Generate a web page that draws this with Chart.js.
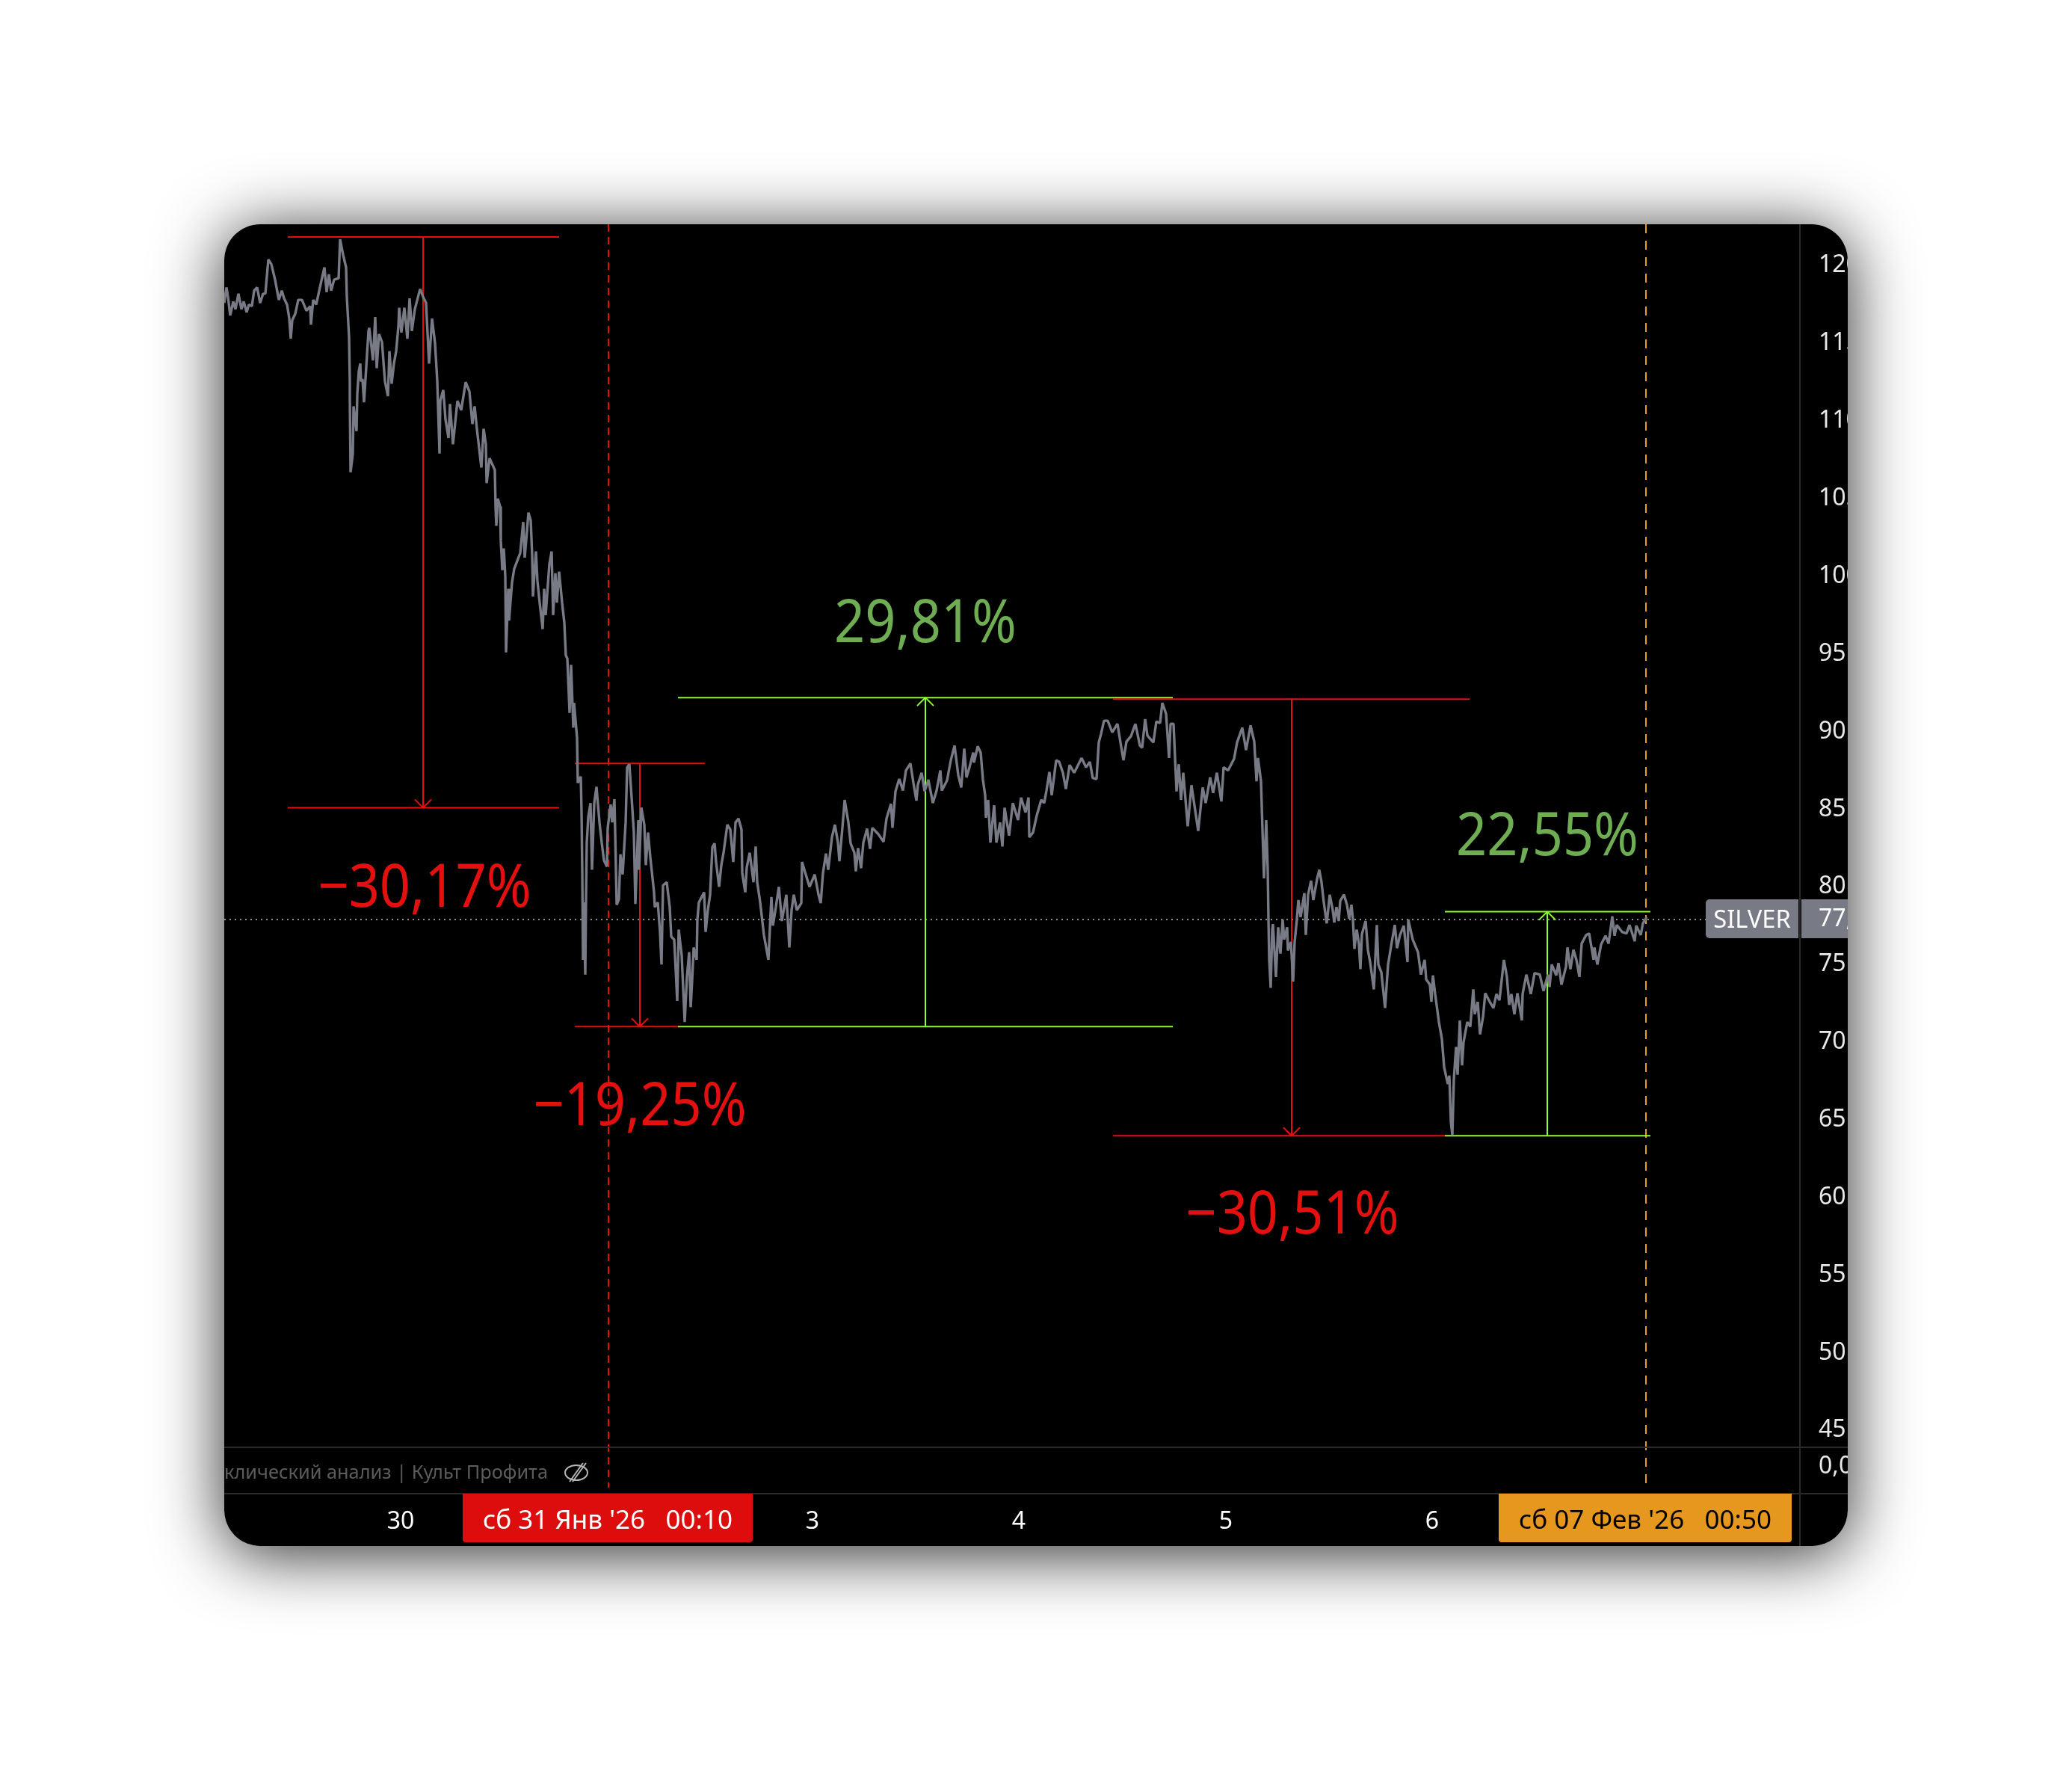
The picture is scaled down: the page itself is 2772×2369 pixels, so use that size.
<!DOCTYPE html>
<html>
<head>
<meta charset="utf-8">
<title>SILVER</title>
<script src="https://cdn.jsdelivr.net/npm/chart.js@4/dist/chart.umd.min.js"></script>
<style>
  html, body { margin: 0; background: #fff; }
  #card {
    position: absolute; left: 300px; top: 300px; width: 2172px; height: 1768px;
    background: #000; border-radius: 48px; overflow: hidden;
  }
  #shadow {
    position: absolute; left: 300px; top: 300px; width: 2172px; height: 1768px;
    border-radius: 48px; box-shadow: 0 10px 90px rgba(0, 0, 0, 0.85);
  }
</style>
</head>
<body>
<div id="shadow"></div>
<div id="card"><canvas id="grafica" width="2172" height="1768"></canvas></div>
<script>
// 5 minute bars counted from the left edge of the window
const bars = [
  0, 3, 5, 8, 12, 15, 19, 23, 26, 30, 33, 37, 40, 44, 48, 52, 55, 59, 63, 68,
  73, 77, 80, 84, 87, 89, 91, 95, 99, 104, 110, 115, 116, 119, 123, 128, 134, 137, 140, 143,
  147, 153, 155, 159, 163, 164, 167, 168, 168, 169, 172, 173, 177, 178, 180, 182, 183, 185, 187, 190,
  193, 194, 199, 202, 204, 207, 211, 215, 219, 221, 224, 227, 230, 233, 234, 237, 241, 245, 248, 251,
  255, 262, 266, 270, 274, 278, 282, 285, 288, 289, 293, 296, 300, 302, 306, 312, 317, 323, 328, 332,
  335, 338, 344, 347, 350, 351, 355, 362, 363, 364, 366, 369, 370, 372, 374, 376, 377, 380, 381, 385,
  388, 392, 396, 400, 402, 407, 410, 412, 413, 417, 419, 422, 426, 428, 430, 435, 438, 440, 443, 445,
  448, 452, 455, 457, 459, 462, 464, 467, 468, 472, 473, 477, 478, 479, 480, 481, 483, 484, 485, 487,
  490, 492, 495, 498, 502, 505, 508, 512, 513, 517, 519, 522, 523, 525, 528, 530, 533, 537, 539, 542,
  545, 548, 550, 554, 555, 558, 562, 564, 567, 570, 575, 576, 580, 583, 585, 587, 592, 596, 598, 602,
  606, 608, 612, 616, 619, 622, 624, 626, 628, 632, 633, 635, 642, 644, 647, 650, 653, 656, 658, 662,
  665, 668, 673, 677, 681, 684, 688, 692, 693, 697, 699, 703, 708, 711, 713, 717, 722, 728, 732, 734,
  738, 742, 746, 752, 756, 759, 762, 766, 772, 773, 778, 783, 790, 795, 798, 801, 805, 808, 813, 817,
  821, 823, 827, 830, 835, 838, 843, 845, 848, 852, 855, 860, 864, 867, 875, 882, 886, 892, 894, 898,
  903, 908, 912, 918, 922, 926, 928, 933, 937, 942, 948, 953, 958, 960, 967, 972, 977, 982, 986, 990,
  993, 997, 1002, 1003, 1008, 1012, 1015, 1018, 1019, 1022, 1025, 1030, 1033, 1038, 1041, 1044, 1050, 1055, 1062, 1066,
  1072, 1076, 1077, 1082, 1087, 1093, 1097, 1100, 1104, 1107, 1113, 1117, 1122, 1126, 1131, 1137, 1147, 1153, 1158, 1162,
  1167, 1170, 1173, 1177, 1182, 1188, 1195, 1199, 1203, 1207, 1213, 1219, 1225, 1228, 1232, 1235, 1243, 1247, 1252, 1255,
  1260, 1264, 1266, 1270, 1274, 1277, 1280, 1283, 1289, 1294, 1303, 1309, 1313, 1319, 1323, 1328, 1334, 1337, 1343, 1351,
  1355, 1362, 1367, 1373, 1378, 1381, 1383, 1387, 1391, 1394, 1396, 1397, 1398, 1400, 1402, 1403, 1407, 1410, 1413, 1416,
  1418, 1422, 1423, 1427, 1430, 1432, 1435, 1437, 1440, 1445, 1447, 1450, 1454, 1457, 1462, 1465, 1468, 1471, 1475, 1479,
  1483, 1485, 1488, 1491, 1493, 1498, 1502, 1505, 1508, 1510, 1512, 1515, 1518, 1520, 1522, 1527, 1530, 1533, 1538, 1542,
  1544, 1548, 1553, 1557, 1562, 1566, 1569, 1573, 1578, 1583, 1584, 1590, 1597, 1601, 1606, 1608, 1613, 1615, 1617, 1620,
  1625, 1629, 1632, 1637, 1639, 1641, 1643, 1645, 1648, 1650, 1653, 1656, 1658, 1663, 1667, 1671, 1673, 1677, 1680, 1684,
  1687, 1693, 1698, 1702, 1706, 1712, 1716, 1719, 1722, 1726, 1730, 1736, 1737, 1742, 1748, 1753, 1760, 1765, 1771, 1773,
  1776, 1782, 1785, 1789, 1795, 1797, 1801, 1805, 1809, 1813, 1816, 1822, 1826, 1832, 1833, 1837, 1842, 1848, 1852, 1857,
  1860, 1863, 1870, 1876, 1880, 1887, 1889, 1895, 1898, 1903,
];

const prices = [
  117.5, 118.5, 117.9, 116.7, 117.6, 117.1, 118.1, 117.1, 117.6, 116.9, 117.4, 117.3, 118.3, 118.5, 117.5, 118.1, 118.1, 120.3, 120.0, 119.0,
  117.7, 118.3, 117.8, 117.4, 116.5, 115.2, 116.4, 116.8, 117.7, 117.7, 117.0, 117.3, 116.1, 117.7, 117.4, 118.5, 119.8, 118.2, 119.35, 118.3,
  119.0, 119.1, 121.6, 120.6, 119.8, 117.9, 115.3, 112.45, 111.4, 106.6, 107.8, 110.85, 109.25, 111.65, 113.1, 113.6, 112.45, 112.6, 111.1, 113.4,
  115.7, 115.9, 113.8, 116.6, 113.3, 115.5, 115.0, 112.45, 111.5, 114.4, 112.3, 113.6, 114.4, 116.0, 117.2, 115.6, 117.2, 115.2, 117.8, 115.7,
  117.1, 118.4, 117.9, 117.5, 113.6, 116.5, 114.9, 112.45, 107.8, 111.2, 111.9, 110.0, 108.8, 111.0, 108.4, 111.2, 110.6, 112.4, 111.8, 109.7,
  110.85, 109.4, 106.9, 109.4, 108.4, 105.9, 107.5, 106.75, 104.3, 103.15, 104.9, 104.4, 102.2, 100.3, 101.7, 99.9, 95.0, 99.1, 97.05, 99.5,
  100.4, 100.9, 101.4, 103.4, 101.1, 104.0, 103.5, 101.2, 98.6, 101.5, 99.6, 98.2, 96.5, 99.1, 97.4, 100.7, 101.5, 97.4, 100.1, 98.2,
  100.2, 98.2, 96.9, 94.8, 94.6, 91.1, 94.2, 90.15, 91.75, 89.5, 86.6, 87.0, 84.7, 80.8, 75.2, 78.9, 74.25, 79.25, 82.75, 84.4,
  85.3, 81.0, 85.3, 86.35, 84.05, 82.75, 81.6, 81.2, 83.7, 85.2, 84.05, 85.55, 83.4, 78.75, 79.1, 82.0, 80.7, 84.05, 87.6, 87.8,
  85.65, 83.4, 78.8, 84.2, 81.0, 85.0, 83.9, 81.3, 83.4, 81.8, 79.55, 78.6, 78.9, 77.0, 74.9, 80.0, 80.2, 78.6, 76.7, 76.5,
  72.55, 77.15, 75.5, 71.2, 74.1, 75.7, 72.15, 73.9, 76.0, 75.2, 77.8, 78.9, 79.55, 77.0, 78.4, 79.4, 82.45, 82.7, 81.5, 79.9,
  81.3, 82.1, 83.9, 83.6, 81.5, 84.05, 84.3, 83.6, 80.8, 79.55, 81.15, 82.1, 80.2, 82.5, 80.2, 78.9, 76.8, 75.2, 79.25, 77.4,
  78.6, 79.9, 77.7, 79.4, 76.0, 78.4, 79.4, 78.4, 78.85, 81.5, 80.7, 79.9, 80.7, 79.4, 78.85, 80.8, 82.05, 81.0, 83.1, 83.9,
  82.75, 81.55, 83.7, 85.5, 84.05, 82.7, 82.1, 80.9, 82.4, 81.1, 82.75, 83.65, 82.35, 83.7, 83.3, 82.8, 84.3, 85.25, 83.7, 86.05,
  86.85, 86.1, 87.4, 87.85, 86.6, 85.45, 86.5, 87.25, 86.05, 86.8, 85.3, 86.1, 87.4, 86.1, 86.75, 88.05, 89.0, 87.1, 86.3, 88.8,
  86.95, 87.6, 88.55, 87.9, 88.95, 88.55, 86.8, 85.8, 84.35, 85.5, 82.75, 85.15, 82.75, 84.05, 82.5, 85.0, 83.2, 85.3, 84.2, 85.65,
  84.7, 85.65, 83.1, 83.4, 84.5, 85.5, 85.3, 86.1, 87.3, 85.8, 88.05, 87.95, 87.25, 86.2, 87.75, 87.25, 88.2, 87.6, 87.95, 86.9,
  86.85, 89.2, 89.75, 90.6, 90.6, 89.85, 90.4, 89.2, 88.05, 89.25, 89.6, 90.4, 89.0, 88.85, 90.7, 89.65, 89.2, 90.55, 90.45, 91.75,
  91.05, 88.2, 90.4, 90.4, 86.05, 87.8, 85.5, 87.25, 83.8, 86.45, 83.5, 86.3, 85.3, 86.95, 85.95, 87.25, 85.4, 87.6, 87.4, 88.15,
  89.2, 90.15, 88.7, 90.3, 89.25, 86.7, 88.2, 86.7, 80.45, 84.2, 81.0, 77.8, 75.2, 73.4, 77.15, 77.5, 74.1, 77.3, 75.6, 77.8,
  76.5, 77.3, 75.8, 76.35, 73.8, 76.35, 77.8, 79.05, 77.95, 79.5, 76.8, 79.4, 80.3, 79.05, 80.4, 81.0, 80.2, 78.9, 77.55, 79.4,
  78.4, 77.6, 78.6, 77.7, 79.0, 79.4, 78.75, 77.85, 78.75, 77.8, 75.9, 77.15, 76.25, 74.6, 76.85, 77.7, 75.85, 75.05, 73.3, 77.45,
  74.9, 74.4, 72.1, 74.9, 76.35, 77.45, 75.95, 76.8, 77.4, 75.05, 77.8, 76.5, 75.7, 74.25, 75.2, 73.95, 73.6, 72.5, 74.2, 73.0,
  71.2, 70.1, 68.3, 67.2, 67.75, 64.8, 63.9, 67.5, 69.6, 67.8, 71.3, 68.4, 69.9, 71.2, 70.9, 73.3, 71.7, 72.5, 70.4, 71.5,
  73.05, 72.5, 72.1, 73.0, 72.6, 75.2, 74.1, 72.3, 73.0, 71.7, 73.05, 71.3, 73.0, 74.25, 73.0, 74.35, 74.25, 73.2, 74.25, 73.45,
  74.9, 74.2, 75.0, 73.6, 74.75, 76.0, 74.6, 75.85, 75.2, 74.1, 76.25, 76.8, 76.9, 75.2, 76.0, 74.9, 76.2, 76.75, 76.25, 78.0,
  76.75, 77.45, 77.0, 76.9, 77.45, 76.4, 77.4, 76.8, 77.55, 77.95,
];

const dayTickBars = [236, 787, 1063, 1340, 1616];
const dayTickLabels = ["30", "3", "4", "5", "6"];
const lastPrice = 77.8;

// measured moves, in bars and prices
const moves = [
  { from: 121.75, to: 85.0, at: 266, fromSpan: [85, 448], toSpan: [85, 448], color: "#e50f0f" },
  { from: 87.85, to: 70.9, at: 556, fromSpan: [469, 643], toSpan: [469, 607], color: "#e50f0f" },
  { from: 70.9, to: 92.09, at: 938, fromSpan: [607, 1269], toSpan: [607, 1269], color: "#8cff2e" },
  { from: 91.99, to: 63.87, at: 1428, fromSpan: [1189, 1666], toSpan: [1189, 1633], color: "#e50f0f" },
  { from: 63.87, to: 78.3, at: 1770, fromSpan: [1633, 1908], toSpan: [1633, 1908], color: "#8cff2e" },
];
const moveLabels = [
  { text: "\u221230,17%", bar: 268, price: 79.72, color: "#e3100f" },
  { text: "\u221219,25%", bar: 556, price: 65.68, color: "#e3100f" },
  { text: "29,81%", bar: 938, price: 96.75, color: "#6fad52" },
  { text: "\u221230,51%", bar: 1429, price: 58.68, color: "#e3100f" },
  { text: "22,55%", bar: 1770, price: 83.05, color: "#6fad52" },
];

const panelLine = "#2a2a2a";
const fontName = '"Noto Sans", sans-serif';
Chart.defaults.font.family = fontName;

function texto(ctx, text, x, y, sx, align) {
  ctx.save();
  ctx.translate(x, y);
  ctx.scale(sx, 1);
  ctx.textAlign = align || "center";
  ctx.textBaseline = "middle";
  ctx.fillText(text, 0, 0);
  ctx.restore();
}

function raya(ctx, x0, y0, x1, y1) {
  ctx.beginPath();
  ctx.moveTo(x0, y0);
  ctx.lineTo(x1, y1);
  ctx.stroke();
}

const marcas = {
  id: "marcas",
  beforeDatasetsDraw(chart) {
    const { ctx, scales } = chart;
    const x = scales.x, y = scales.y;
    ctx.save();

    // session markers
    ctx.lineWidth = 2;
    ctx.setLineDash([10, 7]);
    ctx.strokeStyle = "#e01010";
    raya(ctx, 514, 0, 514, 1690);
    ctx.setLineDash([12, 10]);
    ctx.strokeStyle = "#eb9a1e";
    raya(ctx, 1902, 0, 1902, 1690);

    // last price
    ctx.setLineDash([2, 5]);
    ctx.strokeStyle = "#8a8d96";
    raya(ctx, 0, y.getPixelForValue(lastPrice), 1984, y.getPixelForValue(lastPrice));
    ctx.setLineDash([]);

    moves.forEach((m) => {
      const top = y.getPixelForValue(m.from);
      const bottom = y.getPixelForValue(m.to);
      const mid = x.getPixelForValue(m.at);
      ctx.strokeStyle = m.color;
      ctx.lineWidth = 2;
      raya(ctx, x.getPixelForValue(m.fromSpan[0]), top, x.getPixelForValue(m.fromSpan[1]), top);
      raya(ctx, x.getPixelForValue(m.toSpan[0]), bottom, x.getPixelForValue(m.toSpan[1]), bottom);
      raya(ctx, mid, top, mid, bottom);
      const dir = bottom > top ? -1 : 1;
      ctx.beginPath();
      ctx.moveTo(mid - 11, bottom + dir * 11);
      ctx.lineTo(mid, bottom);
      ctx.lineTo(mid + 11, bottom + dir * 11);
      ctx.stroke();
    });

    ctx.font = "80px " + fontName;
    moveLabels.forEach((l) => {
      ctx.fillStyle = l.color;
      texto(ctx, l.text, x.getPixelForValue(l.bar), y.getPixelForValue(l.price), 0.9);
    });
    ctx.restore();
  },
  afterDatasetsDraw(chart) {
    const ctx = chart.ctx;
    ctx.save();

    // panel separators
    ctx.strokeStyle = panelLine;
    ctx.lineWidth = 2;
    raya(ctx, 0, 1636, 2172, 1636);
    raya(ctx, 0, 1698, 2172, 1698);
    raya(ctx, 2108, 0, 2108, 1768);

    // study title in the lower panel
    ctx.fillStyle = "#5c5c5c";
    ctx.font = "26px " + fontName;
    texto(ctx, "Циклический анализ | Культ Профита", 433, 1671, 0.975, "right");
    ctx.strokeStyle = "#b5b5b5";
    ctx.lineWidth = 2;
    ctx.beginPath();
    ctx.ellipse(471, 1670, 15, 10, 0, 0, Math.PI * 2);
    ctx.stroke();
    raya(ctx, 462, 1682, 480, 1657);
    raya(ctx, 466, 1682, 484, 1657);

    ctx.fillStyle = "#e8e8e8";
    ctx.font = "32px " + fontName;
    texto(ctx, "0,00", 2133, 1662, 1, "left");

    // last price tag
    ctx.fillStyle = "#787b86";
    ctx.beginPath();
    ctx.roundRect(1982, 903, 124, 52, [5, 0, 0, 5]);
    ctx.fill();
    ctx.fillRect(2110, 903, 62, 52);
    ctx.fillStyle = "#fff";
    ctx.font = "32px " + fontName;
    texto(ctx, "SILVER", 2044, 932, 1.02);
    texto(ctx, "77,80", 2133, 930, 1, "left");

    // cursor dates on the time axis
    ctx.font = "34px " + fontName;
    ctx.fillStyle = "#dd0d0d";
    ctx.beginPath();
    ctx.roundRect(319, 1698, 388, 65, [0, 0, 4, 4]);
    ctx.fill();
    ctx.fillStyle = "#fff";
    texto(ctx, "сб 31 Янв '26   00:10", 513, 1735, 1.03);
    ctx.fillStyle = "#e6971e";
    ctx.beginPath();
    ctx.roundRect(1705, 1698, 392, 65, [0, 0, 4, 4]);
    ctx.fill();
    ctx.fillStyle = "#000";
    texto(ctx, "сб 07 Фев '26   00:50", 1901, 1735, 1.03);
    ctx.restore();
  },
};

new Chart(document.getElementById("grafica"), {
  type: "line",
  data: {
    datasets: [
      {
        label: "SILVER",
        data: bars.map((b, i) => ({ x: b, y: prices[i] })),
        borderColor: "#787b86",
        borderWidth: 3.4,
        borderJoinStyle: "bevel",
        pointRadius: 0,
        tension: 0,
      },
    ],
  },
  options: {
    responsive: false,
    animation: false,
    events: [],
    layout: { padding: 0 },
    plugins: { legend: { display: false }, tooltip: { enabled: false } },
    scales: {
      x: {
        type: "linear",
        min: 0,
        max: 2108,
        grid: { display: false, drawTicks: false },
        border: { display: false },
        afterBuildTicks(scale) {
          scale.ticks = dayTickBars.map((v) => ({ value: v }));
        },
        afterFit(scale) {
          scale.height = 132;
          scale.paddingLeft = 0;
          scale.paddingRight = 0;
        },
        ticks: {
          autoSkip: false,
          maxRotation: 0,
          color: "#fff",
          padding: 81,
          font: { size: 32 },
          callback: (v) => dayTickLabels[dayTickBars.indexOf(v)],
        },
      },
      y: {
        position: "right",
        min: 43.81,
        max: 122.57,
        grid: { display: false, drawTicks: false },
        border: { display: false },
        afterFit(scale) {
          scale.width = 64;
          scale.paddingTop = 0;
          scale.paddingBottom = 0;
        },
        ticks: {
          stepSize: 5,
          includeBounds: false,
          color: "#e8e8e8",
          padding: 25,
          labelOffset: 2,
          font: { size: 32 },
          callback: (v) => String(v),
        },
      },
    },
  },
  plugins: [marcas],
});
</script>
</body>
</html>
